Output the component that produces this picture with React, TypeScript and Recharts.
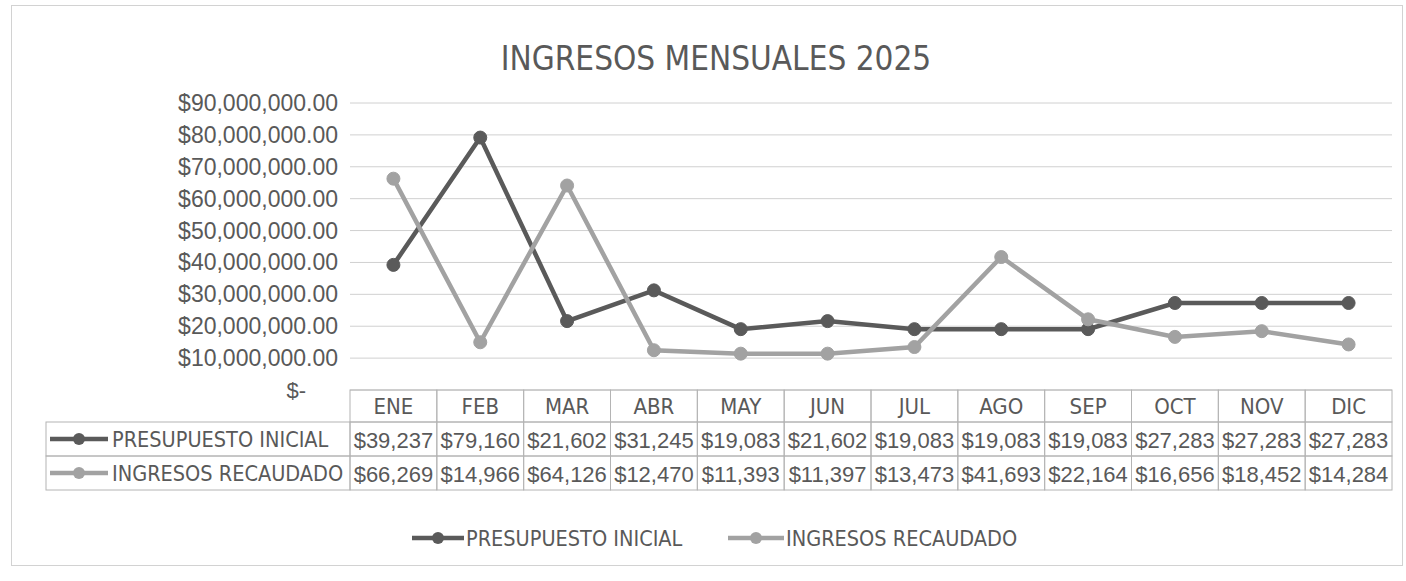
import React from "react";
import { LineChart, Line, XAxis, YAxis, CartesianGrid, Legend } from "recharts";

// values shown in the data table (thousands of pesos)
const months = ["ENE", "FEB", "MAR", "ABR", "MAY", "JUN", "JUL", "AGO", "SEP", "OCT", "NOV", "DIC"];
const presupuestoInicial = [39237, 79160, 21602, 31245, 19083, 21602, 19083, 19083, 19083, 27283, 27283, 27283];
const ingresosRecaudado = [66269, 14966, 64126, 12470, 11393, 11397, 13473, 41693, 22164, 16656, 18452, 14284];
const yTicks = [0, 10000000, 20000000, 30000000, 40000000, 50000000, 60000000, 70000000, 80000000, 90000000];

const SERIES = [
  { key: "presupuesto", name: "PRESUPUESTO INICIAL", color: "#5a5a5a", values: presupuestoInicial },
  { key: "ingresos", name: "INGRESOS RECAUDADO", color: "#a2a2a2", values: ingresosRecaudado },
];

const data = months.map((m, i) => ({
  month: m,
  presupuesto: presupuestoInicial[i] * 1000,
  ingresos: ingresosRecaudado[i] * 1000,
}));

const W = 1406;
const H = 581;
const PLOT_LEFT = 350;
const PLOT_RIGHT = 1392;
const PLOT_TOP = 103;
const PLOT_BOTTOM = 390;
const COL_W = (PLOT_RIGHT - PLOT_LEFT) / months.length;
const ROWS = [32, 34, 34];

const TEXT = "#595959";
const BORDER = "#b4b4b4";
const NARROW = "'Liberation Sans Narrow', 'DejaVu Sans Condensed', 'Arial Narrow', sans-serif";
const NUM = "'Liberation Sans', Arial, sans-serif";

const fmtAxis = (v: number) =>
  "$" + v.toLocaleString("en-US", { minimumFractionDigits: 2, maximumFractionDigits: 2 });
const fmtCell = (v: number) => "$" + v.toLocaleString("en-US");

function YTick(props: any) {
  const { x, y, payload } = props;
  if (payload.value === 0) {
    return (
      <text x={x - 36} y={y + 8} textAnchor="end" fill={TEXT} fontFamily={NUM} fontSize={22}>
        $-
      </text>
    );
  }
  return (
    <text x={x - 4} y={y + 8} textAnchor="end" fill={TEXT} fontFamily={NUM} fontSize={23}>
      {fmtAxis(payload.value)}
    </text>
  );
}

function SeriesKey({ x, y, color, len }: { x: number; y: number; color: string; len: number }) {
  return (
    <g>
      <line x1={x} y1={y} x2={x + len} y2={y} stroke={color} strokeWidth={4.5} />
      <circle cx={x + len / 2} cy={y} r={6} fill={color} />
    </g>
  );
}

function TableTick(props: any) {
  const { x, payload } = props;
  const i = months.indexOf(payload.value);
  const left = x - COL_W / 2;
  const r0 = PLOT_BOTTOM;
  const r1 = r0 + ROWS[0];
  const r2 = r1 + ROWS[1];
  return (
    <g>
      <rect x={left} y={r0} width={COL_W} height={ROWS[0]} fill="none" stroke={BORDER} />
      <rect x={left} y={r1} width={COL_W} height={ROWS[1]} fill="none" stroke={BORDER} />
      <rect x={left} y={r2} width={COL_W} height={ROWS[2]} fill="none" stroke={BORDER} />
      <text x={x} y={r0 + 24} textAnchor="middle" fill={TEXT} fontFamily={NARROW} fontSize={22}>
        {payload.value}
      </text>
      {SERIES.map((s, k) => (
        <text
          key={s.key}
          x={x}
          y={(k === 0 ? r1 : r2) + 26}
          textAnchor="middle"
          fill={TEXT}
          fontFamily={NUM}
          fontSize={22}
        >
          {fmtCell(s.values[i])}
        </text>
      ))}
      {i === 0 && (
        <g>
          <rect x={46} y={r1} width={left - 46} height={ROWS[1]} fill="none" stroke={BORDER} />
          <rect x={46} y={r2} width={left - 46} height={ROWS[2]} fill="none" stroke={BORDER} />
          {SERIES.map((s, k) => {
            const cy = (k === 0 ? r1 : r2) + 17;
            return (
              <g key={s.key}>
                <SeriesKey x={50} y={cy} color={s.color} len={58} />
                <text x={112} y={cy + 8} fill={TEXT} fontFamily={NARROW} fontSize={21.5}>
                  {s.name}
                </text>
              </g>
            );
          })}
        </g>
      )}
    </g>
  );
}

function LegendContent() {
  return (
    <svg width={W} height={40} style={{ display: "block" }}>
      <SeriesKey x={412} y={20} color={SERIES[0].color} len={52} />
      <text x={466} y={28} fill={TEXT} fontFamily={NARROW} fontSize={21.5}>
        {SERIES[0].name}
      </text>
      <SeriesKey x={728} y={20} color={SERIES[1].color} len={56} />
      <text x={786} y={28} fill={TEXT} fontFamily={NARROW} fontSize={21.5}>
        {SERIES[1].name}
      </text>
    </svg>
  );
}

export default function App() {
  return (
    <div style={{ position: "absolute", left: 0, top: 0, width: W, height: H, background: "#ffffff" }}>
      <div
        style={{
          position: "absolute",
          left: 11,
          top: 5,
          width: 1392,
          height: 561,
          border: "1px solid #d2d2d2",
          boxSizing: "border-box",
        }}
      />
      <div
        style={{
          position: "absolute",
          left: 0,
          top: 39,
          width: 1432,
          textAlign: "center",
          fontFamily: NARROW,
          fontSize: 33,
          color: TEXT,
          lineHeight: "40px",
        }}
      >
        INGRESOS MENSUALES 2025
      </div>
      <LineChart
        width={W}
        height={H}
        data={data}
        margin={{ top: PLOT_TOP, left: 0, right: W - PLOT_RIGHT, bottom: H - PLOT_BOTTOM - 100 }}
        style={{ position: "absolute", left: 0, top: 0 }}
      >
        <CartesianGrid vertical={false} stroke="#d0d0d0" strokeWidth={1} />
        <XAxis
          dataKey="month"
          height={100}
          interval={0}
          axisLine={false}
          tickLine={false}
          padding={{ left: COL_W / 2, right: COL_W / 2 }}
          tick={<TableTick />}
        />
        <YAxis
          width={PLOT_LEFT}
          domain={[0, 90000000]}
          ticks={yTicks}
          interval={0}
          axisLine={false}
          tickLine={false}
          tick={<YTick />}
        />
        <Legend
          layout="horizontal"
          verticalAlign="middle"
          align="center"
          wrapperStyle={{ top: 518, left: 0, width: W }}
          content={<LegendContent />}
        />
        {SERIES.map((s) => (
          <Line
            key={s.key}
            type="linear"
            dataKey={s.key}
            name={s.name}
            stroke={s.color}
            strokeWidth={4.5}
            dot={{ r: 6.5, fill: s.color, stroke: s.color, strokeWidth: 1 }}
            isAnimationActive={false}
          />
        ))}
      </LineChart>
    </div>
  );
}
